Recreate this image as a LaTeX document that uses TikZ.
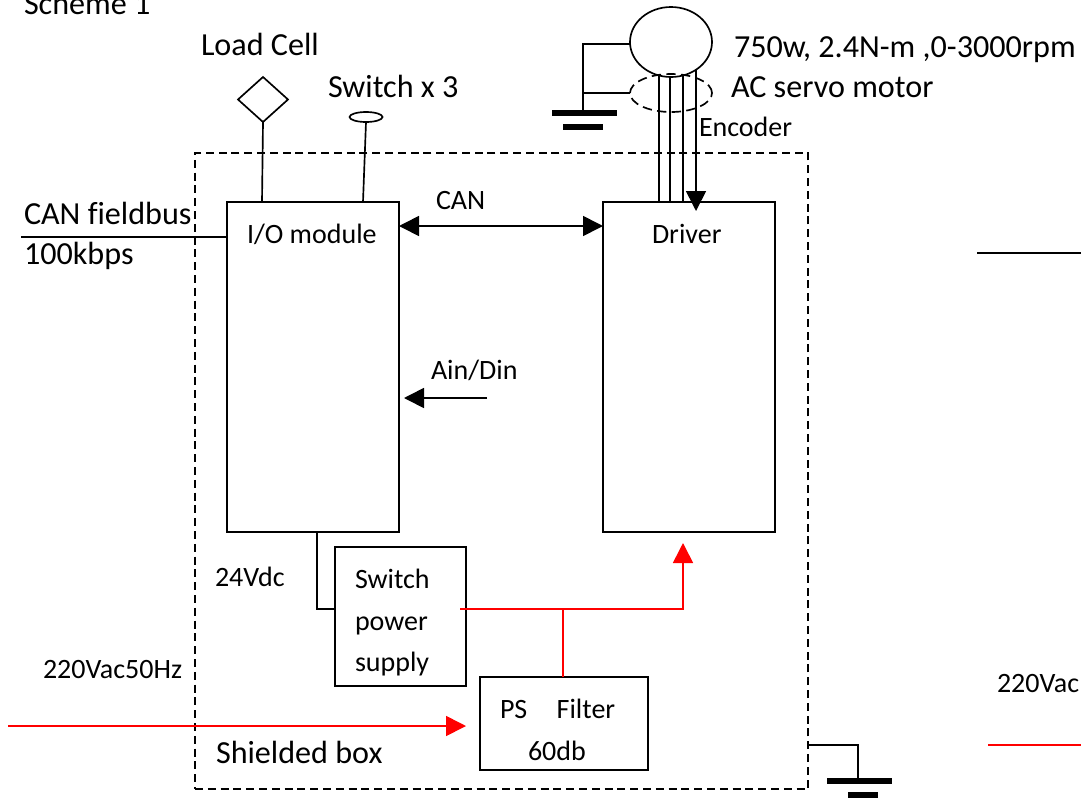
\documentclass[tikz,border=0pt]{standalone}
\usepackage{fontspec}
\setmainfont[Ligatures=NoCommon]{Carlito}
\usetikzlibrary{arrows.meta,calc,shapes.geometric}
\tikzset{
  box/.style={draw,rectangle,line width=1.25pt,inner sep=0pt,outer sep=0pt},
  wire/.style={line width=1.25pt},
  redwire/.style={line width=1.25pt,red},
  bar/.style={line width=4.2pt},
  dashbox/.style={dash pattern=on 6pt off 3.6pt},
  dashell/.style={dash pattern=on 7pt off 4pt},
  bigtxt/.style={anchor=base west,inner sep=0pt,outer sep=0pt,font=\fontsize{24.1}{28}\selectfont},
  smalltxt/.style={anchor=base west,inner sep=0pt,outer sep=0pt,font=\fontsize{21}{24}\selectfont},
  tip/.style={-{Triangle[length=15pt,width=15pt]}},
  dtip/.style={{Triangle[length=15pt,width=15pt]}-{Triangle[length=15pt,width=15pt]}},
}
\begin{document}
\begin{tikzpicture}[x=0.75pt,y=-0.75pt]
\useasboundingbox (0,0) rectangle (1081,800);
% enclosure
\node[box,dashbox,line width=1.1pt,minimum width=613*0.75pt,minimum height=636*0.75pt] (shield) at (501.5,471) {};
% boxes
\node[box,minimum width=172*0.75pt,minimum height=330*0.75pt] (io) at (313,367) {};
\node[box,minimum width=172*0.75pt,minimum height=330*0.75pt] (drv) at (689,367) {};
\node[box,minimum width=131*0.75pt,minimum height=139*0.75pt] (sps) at (400.5,616.5) {};
\node[box,minimum width=168*0.75pt,minimum height=93*0.75pt] (flt) at (564,723.5) {};
% motor and sensors
\node[draw,ellipse,line width=1.25pt,minimum width=82*0.75pt,minimum height=70*0.75pt,inner sep=0pt,outer sep=0pt] (motor) at (671,42) {};
\node[draw,ellipse,dashell,line width=1.25pt,minimum width=82*0.75pt,minimum height=38*0.75pt,inner sep=0pt,outer sep=0pt] (enc) at (671,93) {};
\node[draw,diamond,line width=1.25pt,minimum width=50*0.75pt,minimum height=45*0.75pt,inner sep=0pt,outer sep=0pt] (cell) at (263,99.5) {};
\node[draw,ellipse,line width=1.25pt,minimum width=33*0.75pt,minimum height=10*0.75pt,inner sep=0pt,outer sep=0pt] (swi) at (366,117) {};
% free ends
\coordinate (canL) at (21,237);
\coordinate (acL) at (8,726);
\coordinate (ainR) at (487,398);
\coordinate (strayA) at (977,253);
\coordinate (strayB) at (1081,253);
\coordinate (strayC) at (988,745);
\coordinate (strayD) at (1081,745);
\coordinate (gndA) at (583,110);
\coordinate (gndB) at (858,778);
\coordinate (drvTip) at (683,543);
\coordinate (spsOut) at (460,609);
% grounds
\draw[bar] (552,113) -- (617,113);
\draw[bar] (563,127) -- (603,127);
\draw[bar] (827,781) -- (892,781);
\draw[bar] (848,795) -- (878,795);
% connectors
\draw[wire] (cell.south) -- ($(io.north west)+(35,0)$);
\draw[wire] (swi.south) -- ($(io.north west)+(136,0)$);
\draw[wire] (canL) -- (canL -| io.west);
\draw[wire,dtip] ($(io.north east)+(0,24)$) -- ($(drv.north west)+(0,24)$);
\draw[wire,tip] (ainR) -- ($(ainR -| io.east)+(5,0)$);
\draw[wire] ($(io.south west)+(90,0)$) |- (spsOut -| sps.west);
\draw[wire] ($(motor.west)+(0,2)$) -- ++(-47,0) -- (gndA);
\draw[wire] (enc.west) -- (gndA |- enc.west);
\draw[wire] ($(drv.north west)+(56,0)$) -- ++(0,-126);
\draw[wire] ($(drv.north west)+(67,0)$) -- ++(0,-126);
\draw[wire] ($(drv.north west)+(80,0)$) -- ++(0,-126);
\draw[wire,tip] ($(drv.north west)+(93,-132)$) -- ($(drv.north west)+(93,9)$);
\draw[wire] (shield.east |- gndB) ++(0,-33) -- ++(50,0) -- (gndB);
\draw[redwire,tip] (acL) -- ($(acL -| sps.east)$);
\draw[redwire,tip] (spsOut) -| (drvTip);
\draw[redwire] (flt.north -| 563,0) -- (563,609);
\draw[wire] (strayA) -- (strayB);
\draw[redwire] (strayC) -- (strayD);
% texts
\node[bigtxt] (t1) at (24,14) {Scheme 1};
\node[bigtxt] (t2) at (201,55) {Load Cell};
\node[bigtxt] (t3) at (328,97) {Switch x 3};
\node[bigtxt] (t4) at (734,57) {750w, 2.4N-m ,0-3000rpm};
\node[bigtxt] (t5) at (731,97) {AC servo motor};
\node[smalltxt] (t6) at (699,136) {Encoder};
\node[bigtxt] (t7) at (24,224) {CAN fieldbus};
\node[bigtxt] (t8) at (24,264) {100kbps};
\node[smalltxt] (t9) at (247,243) {I/O module};
\node[smalltxt] (t10) at (436,209) {CAN};
\node[smalltxt] (t11) at (652,243) {Driver};
\node[smalltxt] (t12) at (431,379) {Ain/Din};
\node[smalltxt] (t13) at (215,586) {24Vdc};
\node[smalltxt] (t14) at (355,588) {Switch};
\node[smalltxt] (t15) at (355,630) {power};
\node[smalltxt] (t16) at (355,671) {supply};
\node[smalltxt] (t17) at (43,678) {220Vac50Hz};
\node[smalltxt] (t18) at (500,718) {PS\hspace{1.05em}Filter};
\node[smalltxt] (t19) at (528,760) {60db};
\node[bigtxt] (t20) at (216,763) {Shielded box};
\node[smalltxt] (t21) at (997,692) {220Vac};
\end{tikzpicture}
\end{document}
